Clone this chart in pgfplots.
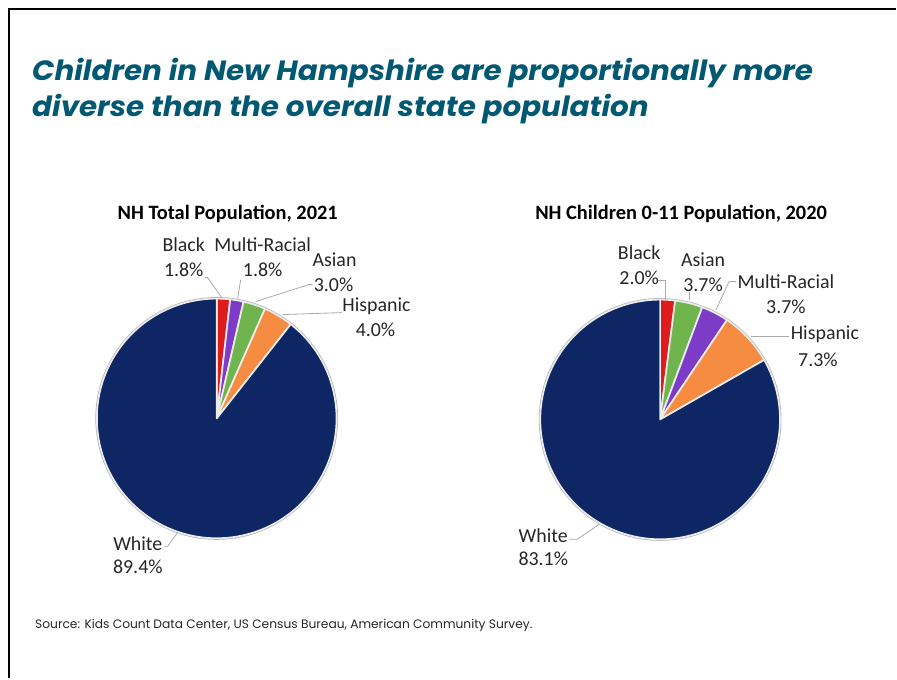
\documentclass[border=0pt]{standalone}
\usepackage{pgfplots}
\pgfplotsset{compat=1.18}
\usepackage{fontspec}
\setmainfont{Carlito}
\newfontfamily\titlefont{Poppins}
\definecolor{titleteal}{RGB}{0,88,115}
\definecolor{cBlack}{RGB}{222,28,28}
\definecolor{cMulti}{RGB}{125,60,200}
\definecolor{cAsian}{RGB}{112,180,78}
\definecolor{cHisp}{RGB}{246,140,66}
\definecolor{cWhite}{RGB}{14,38,100}
\definecolor{leader}{RGB}{170,170,170}

% ---- data (percent) ----
% NH Total Population, 2021 (clockwise from 12 o'clock)
\def\LBlack{1.8}\def\LMulti{1.8}\def\LAsian{3.0}\def\LHisp{4.0}\def\LWhite{89.4}
% NH Children 0-11 Population, 2020
\def\RBlack{2.0}\def\RAsian{3.7}\def\RMulti{3.7}\def\RHisp{7.3}\def\RWhite{83.1}

\newcommand\slice[5]{%
  \fill[#5, draw=white!85!gray, line width=1.7bp, line join=round]
    (axis cs:#1,#2) -- ++(#3:120bp) arc[start angle=#3, end angle=#4, radius=120bp] -- cycle;}

\begin{document}
\begin{tikzpicture}
\pgfmathsetmacro\Ltot{\LBlack+\LMulti+\LAsian+\LHisp+\LWhite}
\pgfmathsetmacro\LaA{90-360*\LBlack/\Ltot}
\pgfmathsetmacro\LaB{\LaA-360*\LMulti/\Ltot}
\pgfmathsetmacro\LaC{\LaB-360*\LAsian/\Ltot}
\pgfmathsetmacro\LaD{\LaC-360*\LHisp/\Ltot}
\pgfmathsetmacro\Rtot{\RBlack+\RAsian+\RMulti+\RHisp+\RWhite}
\pgfmathsetmacro\RaA{90-360*\RBlack/\Rtot}
\pgfmathsetmacro\RaB{\RaA-360*\RAsian/\Rtot}
\pgfmathsetmacro\RaC{\RaB-360*\RMulti/\Rtot}
\pgfmathsetmacro\RaD{\RaC-360*\RHisp/\Rtot}
\begin{axis}[
  x=1bp, y=1bp, xmin=0, xmax=897, ymin=0, ymax=679,
  y dir=reverse, hide axis, clip=false, axis line style={draw=none}]
\addplot[draw=none, forget plot] coordinates {(0,0) (897,679)};
% border
\draw[black, line width=2.4bp] (axis cs:9,679) -- (axis cs:9,9) -- (axis cs:897,9);
% title
\node[anchor=base west, font=\titlefont\bfseries\itshape\fontsize{28}{36}\selectfont, text=titleteal, inner sep=0pt]
  at (axis cs:32,81) {\scalebox{1.054}[1]{Children in New Hampshire are proportionally more}};
\node[anchor=base west, font=\titlefont\bfseries\itshape\fontsize{28}{36}\selectfont, text=titleteal, inner sep=0pt]
  at (axis cs:32,117) {\scalebox{1.054}[1]{diverse than the overall state population}};
% ---- left pie ----
\fill[gray!60] (axis cs:217,419) circle[radius=121.5bp];
\slice{217}{419}{90}{\LaA}{cBlack}
\slice{217}{419}{\LaA}{\LaB}{cMulti}
\slice{217}{419}{\LaB}{\LaC}{cAsian}
\slice{217}{419}{\LaC}{\LaD}{cHisp}
\slice{217}{419}{\LaD}{-270}{cWhite}
% ---- right pie ----
\fill[gray!60] (axis cs:661,420) circle[radius=121.5bp];
\slice{661}{420}{90}{\RaA}{cBlack}
\slice{661}{420}{\RaA}{\RaB}{cAsian}
\slice{661}{420}{\RaB}{\RaC}{cMulti}
\slice{661}{420}{\RaC}{\RaD}{cHisp}
\slice{661}{420}{\RaD}{-270}{cWhite}
% chart titles
\node[font=\bfseries\fontsize{20.5}{24}\selectfont] at (axis cs:228,214) {NH Total Population, 2021};
\node[font=\bfseries\fontsize{20.5}{24}\selectfont] at (axis cs:682,214) {NH Children 0-11 Population, 2020};
% leader lines
\begin{scope}[leader, line width=0.8bp]
\draw (axis cs:205,278) -- (axis cs:208,278) -- (axis cs:222,298);
\draw (axis cs:241,280) -- (axis cs:238,299);
\draw (axis cs:313,285) -- (axis cs:309,285) -- (axis cs:256,302);
\draw (axis cs:342,313) -- (axis cs:283,315);
\draw (axis cs:164,547) -- (axis cs:168,547) -- (axis cs:178,533);
\draw (axis cs:659,281) -- (axis cs:666,281) -- (axis cs:666,300);
\draw (axis cs:690,292) -- (axis cs:690,300);
\draw (axis cs:737,282) -- (axis cs:730,282) -- (axis cs:717,310);
\draw (axis cs:790,337) -- (axis cs:752,337);
\draw (axis cs:570,540) -- (axis cs:578,540) -- (axis cs:600,525);
\end{scope}
% data labels
\begin{scope}[every node/.style={font=\fontsize{20}{24}\selectfont, text=black!85, inner sep=0pt}]
\node at (axis cs:184,245) {Black};      \node at (axis cs:184,270) {\LBlack\%};
\node at (axis cs:263,245) {Multi-Racial};\node at (axis cs:263,270) {\LMulti\%};
\node at (axis cs:335,260) {Asian};      \node at (axis cs:334,285) {\LAsian\%};
\node at (axis cs:377,307) {Hispanic};   \node at (axis cs:376,330) {\LHisp\%};
\node at (axis cs:138,544) {White};      \node at (axis cs:138,568) {\LWhite\%};
\node at (axis cs:640,253) {Black};      \node at (axis cs:640,278) {\RBlack\%};
\node at (axis cs:704,260) {Asian};      \node at (axis cs:704,285) {\RAsian\%};
\node at (axis cs:787,282) {Multi-Racial};\node at (axis cs:787,307) {\RMulti\%};
\node at (axis cs:826,335) {Hispanic};   \node at (axis cs:819,360) {\RHisp\%};
\node at (axis cs:544,536) {White};      \node at (axis cs:544,560) {\RWhite\%};
\end{scope}
% source
\node[anchor=west, inner sep=0pt, font=\titlefont\fontsize{12.3}{14}\selectfont, text=black!85]
  at (axis cs:35,626) {Source: Kids Count Data Center, US Census Bureau, American Community Survey.};
\end{axis}
\end{tikzpicture}
\end{document}
